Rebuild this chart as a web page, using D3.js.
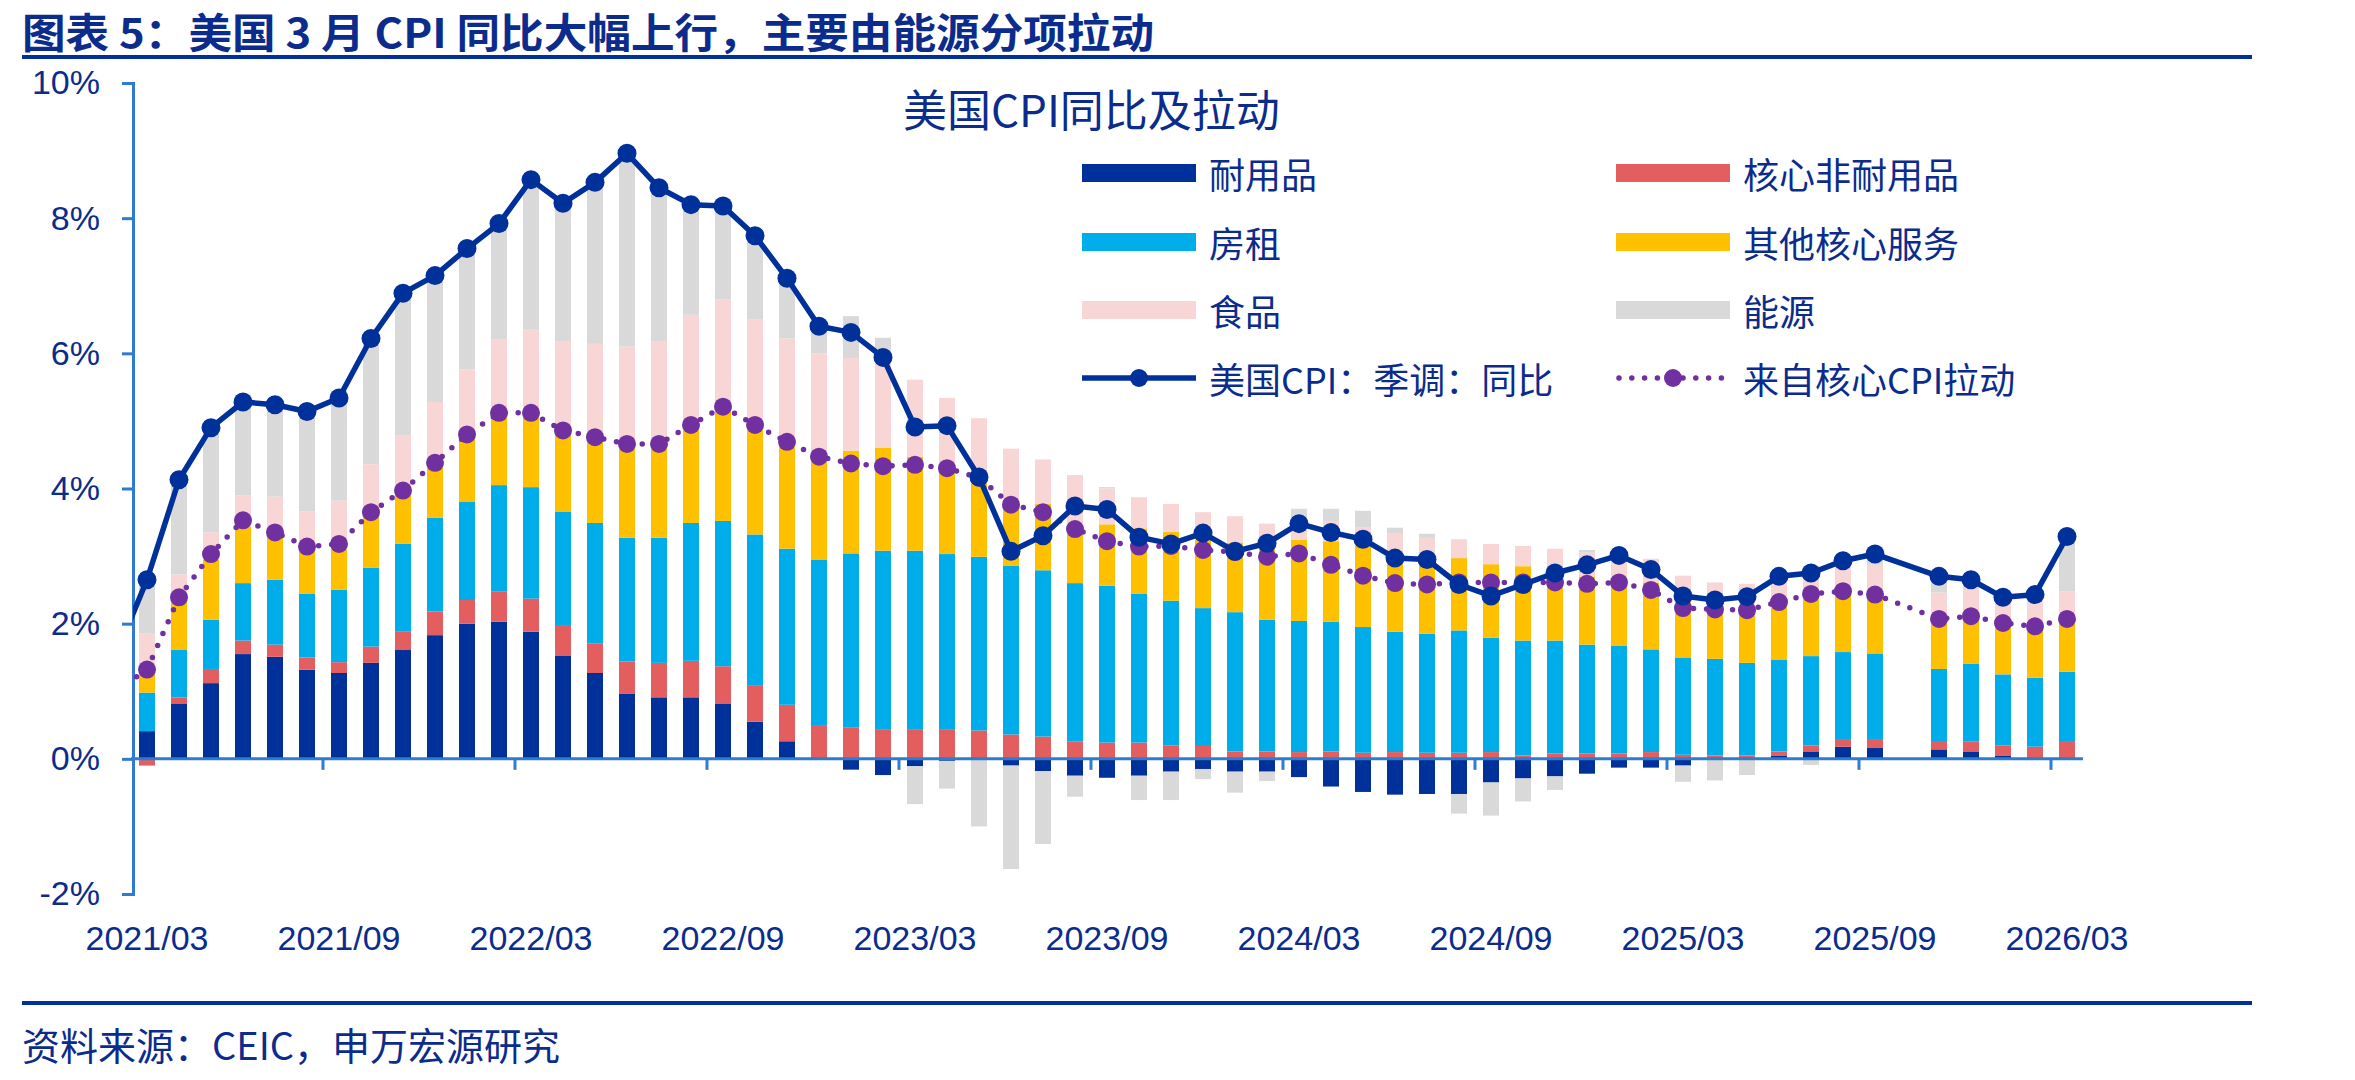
<!DOCTYPE html>
<html>
<head>
<meta charset="utf-8">
<script src="https://cdn.jsdelivr.net/npm/d3@7"></script>
<style>
  body { margin: 0; background: #fff; }
  svg { display: block; }
</style>
</head>
<body>
<svg id="chart" width="2355" height="1080"></svg>
<script>
// months shown on the category axis (2025/10 has no release)
const months = [
  '2021/03','2021/04','2021/05','2021/06','2021/07','2021/08','2021/09','2021/10','2021/11','2021/12',
  '2022/01','2022/02','2022/03','2022/04','2022/05','2022/06','2022/07','2022/08','2022/09','2022/10','2022/11','2022/12',
  '2023/01','2023/02','2023/03','2023/04','2023/05','2023/06','2023/07','2023/08','2023/09','2023/10','2023/11','2023/12',
  '2024/01','2024/02','2024/03','2024/04','2024/05','2024/06','2024/07','2024/08','2024/09','2024/10','2024/11','2024/12',
  '2025/01','2025/02','2025/03','2025/04','2025/05','2025/06','2025/07','2025/08','2025/09','2025/10','2025/11','2025/12',
  '2026/01','2026/02','2026/03'
];

// contributions, percentage points
const durables = [0.41,0.82,1.12,1.55,1.51,1.32,1.27,1.42,1.61,1.83,
  2.00,2.03,1.88,1.53,1.27,0.96,0.91,0.91,0.82,0.55,0.26,0.01,
  -0.16,-0.24,-0.11,-0.03,-0.01,-0.10,-0.18,-0.25,-0.28,-0.25,-0.19,-0.15,
  -0.19,-0.19,-0.27,-0.41,-0.49,-0.53,-0.52,-0.52,-0.35,-0.29,-0.26,-0.22,
  -0.13,-0.13,-0.10,-0.02,-0.02,0.05,0.11,0.18,0.16,null,0.14,0.11,
  0.05,0.01,0.01];
const nondurables = [-0.10,0.09,0.21,0.20,0.18,0.18,0.16,0.24,0.27,0.35,
  0.35,0.45,0.49,0.45,0.44,0.48,0.51,0.54,0.55,0.53,0.54,0.49,
  0.46,0.44,0.44,0.44,0.42,0.36,0.33,0.26,0.24,0.24,0.20,0.19,
  0.11,0.11,0.10,0.11,0.09,0.10,0.09,0.09,0.10,0.05,0.08,0.08,
  0.08,0.10,0.06,0.05,0.05,0.06,0.09,0.10,0.12,null,0.11,0.15,
  0.15,0.17,0.24];
const rent = [0.57,0.70,0.73,0.85,0.96,0.94,1.07,1.17,1.30,1.39,
  1.45,1.57,1.65,1.68,1.78,1.83,1.85,2.04,2.15,2.24,2.31,2.45,
  2.58,2.64,2.64,2.59,2.57,2.50,2.46,2.34,2.32,2.20,2.14,2.04,
  2.06,1.95,1.94,1.92,1.86,1.78,1.76,1.81,1.69,1.70,1.67,1.61,
  1.59,1.52,1.44,1.43,1.37,1.36,1.32,1.30,1.28,null,1.08,1.15,
  1.05,1.02,1.04];
const otherServices = [0.29,0.74,0.89,0.84,0.66,0.67,0.64,0.81,0.75,0.80,
  0.96,1.04,1.07,1.16,1.27,1.39,1.39,1.43,1.67,1.60,1.56,1.52,
  1.52,1.52,1.39,1.29,1.11,0.94,0.98,0.84,0.91,0.97,1.02,1.01,
  1.03,1.14,1.20,1.19,1.20,1.02,1.05,1.07,1.09,1.10,1.03,1.01,
  0.99,0.99,0.83,0.81,0.82,0.85,0.91,0.89,0.85,null,0.74,0.70,
  0.76,0.76,0.78];
const food = [0.59,0.38,0.40,0.46,0.57,0.55,0.68,0.72,0.86,0.91,
  1.00,1.12,1.27,1.36,1.38,1.44,1.52,1.65,1.61,1.58,1.55,1.53,
  1.37,1.26,1.14,1.02,0.94,0.79,0.66,0.76,0.53,0.46,0.41,0.41,
  0.39,0.28,0.30,0.30,0.27,0.44,0.37,0.28,0.30,0.30,0.33,0.35,
  0.29,0.35,0.38,0.32,0.35,0.30,0.32,0.46,0.46,null,0.39,0.50,
  0.40,0.45,0.41];
const energy = [0.80,1.37,1.53,1.35,1.34,1.46,1.50,1.84,2.08,1.86,
  1.77,1.69,2.19,2.02,2.37,2.84,2.25,1.61,1.36,1.22,0.87,0.40,
  0.62,0.37,-0.56,-0.41,-0.99,-1.53,-1.08,-0.31,0.02,-0.36,-0.42,-0.15,
  -0.31,-0.14,0.16,0.18,0.25,0.08,0.06,-0.29,-0.49,-0.34,-0.20,0.04,
  0.12,0.00,-0.24,-0.30,-0.22,0.08,-0.09,0.02,0.13,null,0.24,0.04,
  0.00,0.00,0.76];

// lines, %
const cpiYoY = [2.65,4.13,4.90,5.28,5.24,5.14,5.34,6.22,6.89,7.15,
  7.55,7.92,8.57,8.22,8.53,8.96,8.45,8.20,8.18,7.74,7.11,6.40,
  6.31,5.94,4.91,4.93,4.17,3.07,3.30,3.74,3.69,3.28,3.18,3.34,
  3.07,3.19,3.48,3.35,3.25,2.97,2.95,2.58,2.41,2.58,2.75,2.87,
  3.01,2.80,2.41,2.35,2.40,2.70,2.75,2.93,3.03,null,2.70,2.65,
  2.39,2.43,3.29];
const coreContribution = [1.32,2.39,3.03,3.53,3.35,3.14,3.18,3.65,3.97,4.38,
  4.80,5.12,5.12,4.86,4.76,4.66,4.66,4.94,5.21,4.94,4.69,4.47,
  4.37,4.33,4.35,4.30,4.16,3.76,3.65,3.40,3.22,3.14,3.15,3.09,
  3.06,2.99,3.04,2.87,2.71,2.60,2.58,2.61,2.61,2.61,2.61,2.59,
  2.61,2.50,2.23,2.21,2.20,2.32,2.44,2.48,2.43,null,2.07,2.11,
  2.01,1.96,2.07];
// 2021/02 values, only visible as the clipped stub left of the first point
const priorCpi = 1.5;
const priorCore = 1.0;

const yTicks = [-2, 0, 2, 4, 6, 8, 10];

const navy = '#00309A';
const textColor = '#0B2C8C';
const axisColor = '#2E7BCF';
const cjk = '"Noto Sans CJK SC", "Noto Sans", sans-serif';
const latin = '"Liberation Sans", Arial, "Noto Sans CJK SC", sans-serif';

const keys = ['durables', 'nondurables', 'rent', 'otherServices', 'food', 'energy'];
const values = { durables, nondurables, rent, otherServices, food, energy };
const colors = {
  durables: '#00309A',
  nondurables: '#E35F5F',
  rent: '#00ADEB',
  otherServices: '#FFC000',
  food: '#F9D6D6',
  energy: '#D9D9D9'
};
const names = {
  durables: '耐用品',
  nondurables: '核心非耐用品',
  rent: '房租',
  otherServices: '其他核心服务',
  food: '食品',
  energy: '能源'
};

const svg = d3.select('#chart');

const x = d3.scaleBand().domain(months).range([131, 2083]).paddingInner(0.5).paddingOuter(0.25);
const y = d3.scaleLinear().domain([-2, 10]).range([894, 83]);
const cx = m => x(m) + x.bandwidth() / 2;

// header
svg.append('text')
  .attr('x', 22).attr('y', 48)
  .attr('font-family', cjk).attr('font-weight', 700).attr('font-size', 41)
  .attr('textLength', 1132).attr('lengthAdjust', 'spacingAndGlyphs')
  .attr('fill', textColor)
  .text('图表 5：美国 3 月 CPI 同比大幅上行，主要由能源分项拉动');
svg.append('line').attr('x1', 22).attr('x2', 2252).attr('y1', 57).attr('y2', 57)
  .attr('stroke', navy).attr('stroke-width', 4);

// footer
svg.append('line').attr('x1', 22).attr('x2', 2252).attr('y1', 1003).attr('y2', 1003)
  .attr('stroke', navy).attr('stroke-width', 4);
svg.append('text')
  .attr('x', 22).attr('y', 1060)
  .attr('font-family', cjk).attr('font-size', 38)
  .attr('fill', textColor)
  .text('资料来源：CEIC，申万宏源研究');

// stacked bars
const rows = months.map((m, i) => {
  const r = { month: m };
  keys.forEach(k => r[k] = values[k][i]);
  return r;
}).filter(r => r.durables !== null);

const stacked = d3.stack().keys(keys).offset(d3.stackOffsetDiverging)(rows);

svg.append('g')
  .selectAll('g')
  .data(stacked)
  .join('g')
  .attr('fill', d => colors[d.key])
  .selectAll('rect')
  .data(d => d)
  .join('rect')
  .attr('x', d => x(d.data.month))
  .attr('width', x.bandwidth())
  .attr('y', d => y(Math.max(d[0], d[1])))
  .attr('height', d => Math.abs(y(d[0]) - y(d[1])));

// y axis
const yAxis = svg.append('g')
  .attr('transform', 'translate(133,0)')
  .call(d3.axisLeft(y).tickValues(yTicks).tickFormat(d => d + '%').tickSize(11).tickSizeOuter(11).tickPadding(22));
yAxis.selectAll('path, line').attr('stroke', axisColor).attr('stroke-width', 3);
yAxis.selectAll('text')
  .attr('font-family', latin).attr('font-size', 34).attr('fill', textColor);

// zero line with ticks between categories every 6 months
const zero = svg.append('g');
zero.append('line')
  .attr('x1', x.range()[0]).attr('x2', x.range()[1])
  .attr('y1', y(0)).attr('y2', y(0))
  .attr('stroke', axisColor).attr('stroke-width', 3);
zero.selectAll('line.tick')
  .data(months.filter((m, i) => i % 6 === 5 && i < months.length - 1))
  .join('line')
  .attr('class', 'tick')
  .attr('x1', m => cx(m) + x.step() / 2).attr('x2', m => cx(m) + x.step() / 2)
  .attr('y1', y(0)).attr('y2', y(0) + 11)
  .attr('stroke', axisColor).attr('stroke-width', 3);

// x labels below the plot
const xAxis = svg.append('g')
  .attr('transform', `translate(0,${y(-2)})`)
  .call(d3.axisBottom(x).tickValues(months.filter((m, i) => i % 6 === 0)).tickSize(0).tickPadding(32));
xAxis.select('.domain').remove();
xAxis.selectAll('text')
  .attr('font-family', latin).attr('font-size', 34).attr('fill', textColor);

// lines
svg.append('clipPath').attr('id', 'plotClip')
  .append('rect').attr('x', 133).attr('y', 0).attr('width', x.range()[1] - 133).attr('height', 1080);

const cpiPts = [{ px: cx(months[0]) - x.step(), v: priorCpi }]
  .concat(months.map((m, i) => ({ px: cx(m), v: cpiYoY[i] })))
  .filter(d => d.v !== null);
const corePts = [{ px: cx(months[0]) - x.step(), v: priorCore }]
  .concat(months.map((m, i) => ({ px: cx(m), v: coreContribution[i] })))
  .filter(d => d.v !== null);

const line = d3.line().x(d => d.px).y(d => y(d.v));
const lines = svg.append('g').attr('clip-path', 'url(#plotClip)');

lines.append('path')
  .datum(corePts)
  .attr('d', line)
  .attr('fill', 'none')
  .attr('stroke', '#7030A0')
  .attr('stroke-width', 5.5)
  .attr('stroke-linecap', 'round')
  .attr('stroke-dasharray', '0 13');
lines.append('g')
  .selectAll('circle')
  .data(corePts.slice(1))
  .join('circle')
  .attr('cx', d => d.px).attr('cy', d => y(d.v)).attr('r', 9)
  .attr('fill', '#7030A0');

lines.append('path')
  .datum(cpiPts)
  .attr('d', line)
  .attr('fill', 'none')
  .attr('stroke', navy)
  .attr('stroke-width', 5.5)
  .attr('stroke-linejoin', 'round');
lines.append('g')
  .selectAll('circle')
  .data(cpiPts.slice(1))
  .join('circle')
  .attr('cx', d => d.px).attr('cy', d => y(d.v)).attr('r', 9.5)
  .attr('fill', navy);

// chart title and legend
svg.append('text')
  .attr('x', 903).attr('y', 127)
  .attr('font-family', cjk).attr('font-size', 44)
  .attr('fill', textColor)
  .text('美国CPI同比及拉动');

const legendCols = [1082, 1616];
const legendRows = [173, 242, 310, 378];
const legend = svg.append('g');

keys.forEach((k, i) => {
  const lx = legendCols[i % 2];
  const ly = legendRows[Math.floor(i / 2)];
  legend.append('rect')
    .attr('x', lx).attr('y', ly - 9).attr('width', 114).attr('height', 18)
    .attr('fill', colors[k]);
  legend.append('text')
    .attr('x', lx + 127).attr('y', ly)
    .attr('dominant-baseline', 'central')
    .attr('font-family', cjk).attr('font-size', 36).attr('fill', textColor)
    .text(names[k]);
});

const ly4 = legendRows[3];
legend.append('line')
  .attr('x1', legendCols[0]).attr('x2', legendCols[0] + 114)
  .attr('y1', ly4).attr('y2', ly4)
  .attr('stroke', navy).attr('stroke-width', 5.5);
legend.append('circle')
  .attr('cx', legendCols[0] + 57).attr('cy', ly4).attr('r', 9).attr('fill', navy);
legend.append('text')
  .attr('x', legendCols[0] + 127).attr('y', ly4)
  .attr('dominant-baseline', 'central')
  .attr('font-family', cjk).attr('font-size', 36).attr('fill', textColor)
  .text('美国CPI：季调：同比');

legend.append('line')
  .attr('x1', legendCols[1] + 3).attr('x2', legendCols[1] + 114)
  .attr('y1', ly4).attr('y2', ly4)
  .attr('stroke', '#7030A0').attr('stroke-width', 5.5)
  .attr('stroke-linecap', 'round').attr('stroke-dasharray', '0 12.8');
legend.append('circle')
  .attr('cx', legendCols[1] + 57).attr('cy', ly4).attr('r', 9).attr('fill', '#7030A0');
legend.append('text')
  .attr('x', legendCols[1] + 127).attr('y', ly4)
  .attr('dominant-baseline', 'central')
  .attr('font-family', cjk).attr('font-size', 36).attr('fill', textColor)
  .text('来自核心CPI拉动');
</script>
</body>
</html>
